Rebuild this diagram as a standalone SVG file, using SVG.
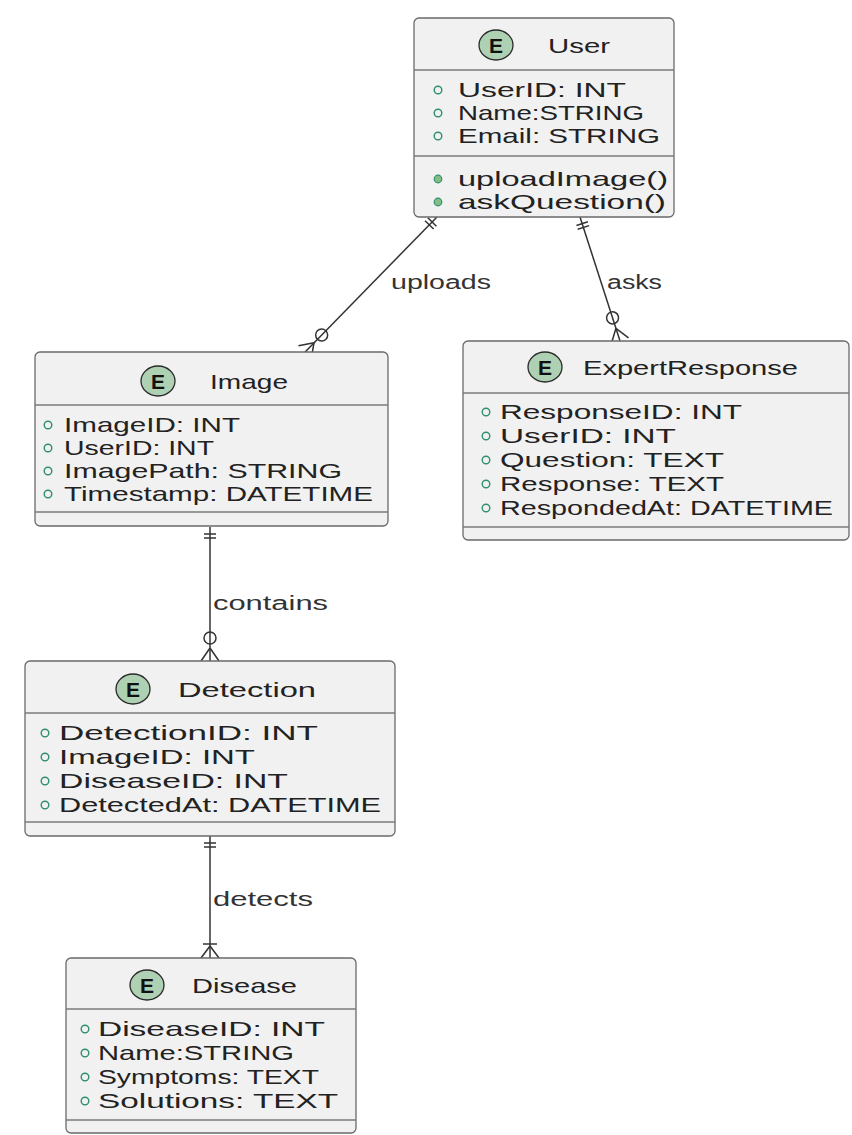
<svg xmlns="http://www.w3.org/2000/svg" width="852" height="1135" viewBox="0 0 852 1135">
<defs>
<style>
.box{fill:#F1F1F1;stroke:#6a6a6a;stroke-width:1.3}
.sep{stroke:#7a7a7a;stroke-width:1.3}
.ecirc{fill:#ADD1B2;stroke:#2a2a2a;stroke-width:1.3}
.etxt{font-family:"Liberation Sans",Arial,sans-serif;font-size:21px;font-weight:bold;fill:#111;text-anchor:middle}
.title{font-family:"Liberation Sans",Arial,sans-serif;font-size:21px;fill:#222}
.row{font-family:"Liberation Sans",Arial,sans-serif;font-size:21px;fill:#222}
.lbl{font-family:"Liberation Sans",Arial,sans-serif;font-size:20px;fill:#333}
.fld{fill:none;stroke:#2f8f70;stroke-width:1.4}
.mth{fill:#84BE84;stroke:#2f8f70;stroke-width:1.2}
.conn{stroke:#333;stroke-width:1.5;fill:none}
</style>
</defs>
<rect width="852" height="1135" fill="#ffffff"/>

<g id="connectors">
  <!-- uploads -->
  <g transform="translate(437,217) rotate(134.35)">
    <line class="conn" x1="0" y1="0" x2="189" y2="0"/>
    <line class="conn" x1="7" y1="-6" x2="7" y2="6"/>
    <line class="conn" x1="11" y1="-6" x2="11" y2="6"/>
    <circle class="conn" cx="165" cy="0" r="6" fill="#fff"/>
    <line class="conn" x1="176" y1="0" x2="189" y2="-9"/>
    <line class="conn" x1="176" y1="0" x2="189" y2="9"/>
  </g>
  <!-- asks -->
  <g transform="translate(580,217) rotate(72.1)">
    <line class="conn" x1="0" y1="0" x2="130" y2="0"/>
    <line class="conn" x1="7" y1="-6" x2="7" y2="6"/>
    <line class="conn" x1="11" y1="-6" x2="11" y2="6"/>
    <circle class="conn" cx="106" cy="0" r="6" fill="#fff"/>
    <line class="conn" x1="117" y1="0" x2="130" y2="-9"/>
    <line class="conn" x1="117" y1="0" x2="130" y2="9"/>
  </g>
  <!-- contains -->
  <g transform="translate(210,527) rotate(90)">
    <line class="conn" x1="0" y1="0" x2="134" y2="0"/>
    <line class="conn" x1="7" y1="-6" x2="7" y2="6"/>
    <line class="conn" x1="11" y1="-6" x2="11" y2="6"/>
    <circle class="conn" cx="111" cy="0" r="6" fill="#fff"/>
    <line class="conn" x1="121" y1="0" x2="134" y2="-9"/>
    <line class="conn" x1="121" y1="0" x2="134" y2="9"/>
  </g>
  <!-- detects -->
  <g transform="translate(210,836) rotate(90)">
    <line class="conn" x1="0" y1="0" x2="122" y2="0"/>
    <line class="conn" x1="7" y1="-6" x2="7" y2="6"/>
    <line class="conn" x1="11" y1="-6" x2="11" y2="6"/>
    <line class="conn" x1="108" y1="-7" x2="108" y2="7"/>
    <line class="conn" x1="110" y1="0" x2="122" y2="-9"/>
    <line class="conn" x1="110" y1="0" x2="122" y2="9"/>
  </g>
  <text class="lbl" x="391" y="289" textLength="100" lengthAdjust="spacingAndGlyphs">uploads</text>
  <text class="lbl" x="607" y="289" textLength="55" lengthAdjust="spacingAndGlyphs">asks</text>
  <text class="lbl" x="213" y="610" textLength="115" lengthAdjust="spacingAndGlyphs">contains</text>
  <text class="lbl" x="213" y="906" textLength="100" lengthAdjust="spacingAndGlyphs">detects</text>
</g>

<g id="User">
  <rect class="box" x="414" y="18" width="260" height="199" rx="5"/>
  <ellipse class="ecirc" cx="496" cy="45" rx="17" ry="15"/>
  <text class="etxt" x="496" y="52.5">E</text>
  <text class="title" x="548" y="53" textLength="62" lengthAdjust="spacingAndGlyphs">User</text>
  <line class="sep" x1="414" y1="70" x2="674" y2="70"/>
  <circle class="fld" cx="438" cy="90" r="3.8"/>
  <text class="row" x="458" y="97" textLength="168" lengthAdjust="spacingAndGlyphs">UserID: INT</text>
  <circle class="fld" cx="438" cy="113" r="3.8"/>
  <text class="row" x="458" y="120" textLength="186" lengthAdjust="spacingAndGlyphs">Name:STRING</text>
  <circle class="fld" cx="438" cy="136" r="3.8"/>
  <text class="row" x="458" y="143" textLength="202" lengthAdjust="spacingAndGlyphs">Email: STRING</text>
  <line class="sep" x1="414" y1="156" x2="674" y2="156"/>
  <circle class="mth" cx="438" cy="179" r="3.8"/>
  <text class="row" x="458" y="186" textLength="210" lengthAdjust="spacingAndGlyphs">uploadImage()</text>
  <circle class="mth" cx="438" cy="202" r="3.8"/>
  <text class="row" x="458" y="209" textLength="208" lengthAdjust="spacingAndGlyphs">askQuestion()</text>
</g>

<g id="Image">
  <rect class="box" x="35" y="352" width="353" height="174" rx="5"/>
  <ellipse class="ecirc" cx="158" cy="381" rx="17" ry="15"/>
  <text class="etxt" x="158" y="388.5">E</text>
  <text class="title" x="210" y="389" textLength="78" lengthAdjust="spacingAndGlyphs">Image</text>
  <line class="sep" x1="35" y1="405" x2="388" y2="405"/>
  <circle class="fld" cx="48" cy="425" r="3.8"/>
  <text class="row" x="64" y="432" textLength="176" lengthAdjust="spacingAndGlyphs">ImageID: INT</text>
  <circle class="fld" cx="48" cy="448" r="3.8"/>
  <text class="row" x="64" y="455" textLength="150" lengthAdjust="spacingAndGlyphs">UserID: INT</text>
  <circle class="fld" cx="48" cy="471" r="3.8"/>
  <text class="row" x="64" y="478" textLength="278" lengthAdjust="spacingAndGlyphs">ImagePath: STRING</text>
  <circle class="fld" cx="48" cy="494" r="3.8"/>
  <text class="row" x="64" y="501" textLength="309" lengthAdjust="spacingAndGlyphs">Timestamp: DATETIME</text>
  <line class="sep" x1="35" y1="512" x2="388" y2="512"/>
</g>

<g id="ExpertResponse">
  <rect class="box" x="463" y="341" width="386" height="199" rx="5"/>
  <ellipse class="ecirc" cx="545" cy="367" rx="17" ry="15"/>
  <text class="etxt" x="545" y="374.5">E</text>
  <text class="title" x="583" y="375" textLength="215" lengthAdjust="spacingAndGlyphs">ExpertResponse</text>
  <line class="sep" x1="463" y1="393" x2="849" y2="393"/>
  <circle class="fld" cx="486" cy="412" r="3.8"/>
  <text class="row" x="500" y="419" textLength="242" lengthAdjust="spacingAndGlyphs">ResponseID: INT</text>
  <circle class="fld" cx="486" cy="436" r="3.8"/>
  <text class="row" x="500" y="443" textLength="176" lengthAdjust="spacingAndGlyphs">UserID: INT</text>
  <circle class="fld" cx="486" cy="460" r="3.8"/>
  <text class="row" x="500" y="467" textLength="224" lengthAdjust="spacingAndGlyphs">Question: TEXT</text>
  <circle class="fld" cx="486" cy="484" r="3.8"/>
  <text class="row" x="500" y="491" textLength="224" lengthAdjust="spacingAndGlyphs">Response: TEXT</text>
  <circle class="fld" cx="486" cy="508" r="3.8"/>
  <text class="row" x="500" y="515" textLength="333" lengthAdjust="spacingAndGlyphs">RespondedAt: DATETIME</text>
  <line class="sep" x1="463" y1="527" x2="849" y2="527"/>
</g>

<g id="Detection">
  <rect class="box" x="25" y="661" width="370" height="175" rx="5"/>
  <ellipse class="ecirc" cx="133" cy="689" rx="17" ry="15"/>
  <text class="etxt" x="133" y="696.5">E</text>
  <text class="title" x="178" y="697" textLength="138" lengthAdjust="spacingAndGlyphs">Detection</text>
  <line class="sep" x1="25" y1="713" x2="395" y2="713"/>
  <circle class="fld" cx="45" cy="733" r="3.8"/>
  <text class="row" x="59" y="740" textLength="259" lengthAdjust="spacingAndGlyphs">DetectionID: INT</text>
  <circle class="fld" cx="45" cy="757" r="3.8"/>
  <text class="row" x="59" y="764" textLength="196" lengthAdjust="spacingAndGlyphs">ImageID: INT</text>
  <circle class="fld" cx="45" cy="781" r="3.8"/>
  <text class="row" x="59" y="788" textLength="229" lengthAdjust="spacingAndGlyphs">DiseaseID: INT</text>
  <circle class="fld" cx="45" cy="805" r="3.8"/>
  <text class="row" x="59" y="812" textLength="322" lengthAdjust="spacingAndGlyphs">DetectedAt: DATETIME</text>
  <line class="sep" x1="25" y1="822" x2="395" y2="822"/>
</g>

<g id="Disease">
  <rect class="box" x="66" y="958" width="290" height="175" rx="5"/>
  <ellipse class="ecirc" cx="147" cy="985" rx="17" ry="15"/>
  <text class="etxt" x="147" y="992.5">E</text>
  <text class="title" x="192" y="993" textLength="105" lengthAdjust="spacingAndGlyphs">Disease</text>
  <line class="sep" x1="66" y1="1009" x2="356" y2="1009"/>
  <circle class="fld" cx="85" cy="1029" r="3.8"/>
  <text class="row" x="98" y="1036" textLength="227" lengthAdjust="spacingAndGlyphs">DiseaseID: INT</text>
  <circle class="fld" cx="85" cy="1053" r="3.8"/>
  <text class="row" x="98" y="1060" textLength="196" lengthAdjust="spacingAndGlyphs">Name:STRING</text>
  <circle class="fld" cx="85" cy="1077" r="3.8"/>
  <text class="row" x="98" y="1084" textLength="221" lengthAdjust="spacingAndGlyphs">Symptoms: TEXT</text>
  <circle class="fld" cx="85" cy="1101" r="3.8"/>
  <text class="row" x="98" y="1108" textLength="240" lengthAdjust="spacingAndGlyphs">Solutions: TEXT</text>
  <line class="sep" x1="66" y1="1120" x2="356" y2="1120"/>
</g>
</svg>
